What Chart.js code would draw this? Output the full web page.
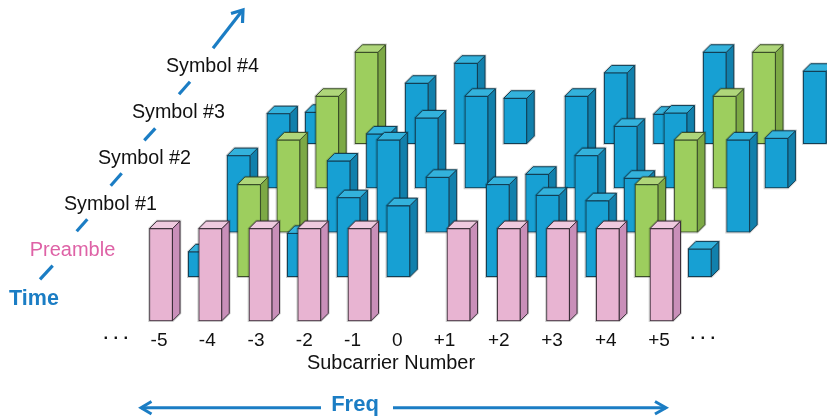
<!DOCTYPE html>
<html><head><meta charset="utf-8">
<style>html,body{margin:0;padding:0;background:#fff}canvas{display:block}</style>
<script src="https://cdn.jsdelivr.net/npm/chart.js@4"></script></head>
<body><canvas id="c" width="827" height="419"></canvas>
<script>
const rowNames = ['Preamble','Symbol #1','Symbol #2','Symbol #3','Symbol #4'];
const rowFloor = [0, 0.478, 0.961, 1.44, 1.922];
const preamblePos = [-5.00,-4.01,-3.00,-2.02,-1.01,0.98,1.99,2.98,3.98,5.06];
const symbol1Pos = [-4.22,-3.23,-2.23,-1.23,-0.23,1.77,2.77,3.77,4.76,5.83];
const symbol2Pos = [-3.44,-2.44,-1.43,-0.43,0.56,2.56,3.55,4.54,5.55,6.60];
const symbol3Pos = [-2.64,-1.66,-0.64,0.34,1.34,3.35,4.34,5.34,6.33,7.37];
const symbol4Pos = [-1.87,-0.87,0.14,1.13,2.12,4.14,5.13,6.13,7.12,8.14];
const preambleAmp = [1,1,1,1,1,1,1,1,1,1];
const symbol1Amp = [.27,1,.47,.857,.77,1,.883,.824,1,.30];
const symbol2Amp = [.83,1,.772,1,.595,.628,.83,.585,1,1];
const symbol3Amp = [.806,.995,.586,.759,.995,.995,.669,.813,.995,.539];
const symbol4Amp = [.339,.99,.654,.871,.491,.766,.318,.99,.99,.784];
const pilotIndex = [1, 8];
const tickValues = [-5.90,-5.04,-4.07,-3.09,-2.12,-1.15,-0.25,0.70,1.79,2.86,3.94,5.01,5.90];
const tickLabels = ['· · ·','-5','-4','-3','-2','-1','0','+1','+2','+3','+4','+5','· · ·'];

const FONT = '"Liberation Sans", Arial, sans-serif';
const palette = {
  pink:  {front:'#E8B4D2', top:'#EFCADF', side:'#C98FB9', line:'#3d2f3a'},
  blue:  {front:'#17A0D3', top:'#33B2DC', side:'#1180AC', line:'#123f55'},
  green: {front:'#9DCE5E', top:'#AFD67A', side:'#7DA945', line:'#3b4f28'}
};
const DEPTH = 7.5;
const posRows = [preamblePos, symbol1Pos, symbol2Pos, symbol3Pos, symbol4Pos];
const ampRows = [preambleAmp, symbol1Amp, symbol2Amp, symbol3Amp, symbol4Amp];
const kinds = ampRows.map((a, r) => a.map((_, i) => r === 0 ? 'pink' : pilotIndex.includes(i) ? 'green' : 'blue'));

const datasets = rowNames.map((name, r) => ({
  label: name,
  data: posRows[r].map((x, i) => ({x, y: [rowFloor[r], rowFloor[r] + ampRows[r][i]]})),
  backgroundColor: kinds[r].map(k => palette[k].front),
  borderColor: kinds[r].map(k => palette[k].line),
  borderWidth: 1,
  borderSkipped: false,
  barThickness: 23,
  grouped: false,
  clip: false,
  order: r
}));

function path(ctx, pts) {
  ctx.beginPath();
  pts.forEach((p, i) => i ? ctx.lineTo(p[0], p[1]) : ctx.moveTo(p[0], p[1]));
  ctx.closePath();
}
function poly(ctx, pts, fill, line) {
  path(ctx, pts);
  ctx.fillStyle = fill; ctx.fill();
  ctx.strokeStyle = line; ctx.lineWidth = 1; ctx.stroke();
}
const depthFaces = {
  id: 'depthFaces',
  beforeDatasetDraw(chart, args) {
    const ctx = chart.ctx, r = args.index;
    chart.getDatasetMeta(r).data.forEach((bar, i) => {
      const p = palette[kinds[r][i]];
      const L = bar.x - bar.width / 2, R = bar.x + bar.width / 2, T = bar.y, B = bar.base;
      const D = DEPTH;
      path(ctx, [[L,T],[L+D,T-D],[R+D,T-D],[R+D,B-D],[R,B],[L,B]]);
      ctx.strokeStyle = 'rgba(0,0,0,0.2)'; ctx.lineWidth = 2.6; ctx.stroke();
      poly(ctx, [[R,T],[R+D,T-D],[R+D,B-D],[R,B]], p.side, p.line);
      poly(ctx, [[L,T],[L+D,T-D],[R+D,T-D],[R,T]], p.top, p.line);
    });
  }
};

const ARROW = '#1B7DC4';
const labelTexts = [
  ['Symbol #4', 212.5, 66.5, 'normal', 19.7, '#111'],
  ['Symbol #3', 178.5, 112.5, 'normal', 19.7, '#111'],
  ['Symbol #2', 144.5, 158.5, 'normal', 19.7, '#111'],
  ['Symbol #1', 110.5, 204.5, 'normal', 19.7, '#111'],
  ['Preamble', 72.5, 250, 'normal', 20, '#DE62A6'],
  ['Time', 34, 299.5, 'bold', 21.5, ARROW],
  ['Freq', 355, 405, 'bold', 22, ARROW]
];
const dashSegs = [
  [40,279.3,52.7,265.7],[76.7,231.3,87.3,219.3],[110.7,185.7,121.7,173.3],
  [144.3,140.3,155.3,128.3],[179,94.3,190,81.7]
];
const annotate = {
  id: 'annotate',
  afterDraw(chart) {
    const ctx = chart.ctx;
    ctx.save();
    ctx.textAlign = 'center'; ctx.textBaseline = 'middle';
    labelTexts.forEach(([t,x,y,w,s,c]) => {
      ctx.font = `${w} ${s}px ${FONT}`; ctx.fillStyle = c; ctx.fillText(t, x, y);
    });
    ctx.strokeStyle = ARROW; ctx.lineWidth = 3.2;
    dashSegs.forEach(([a,b,c,d]) => { ctx.beginPath(); ctx.moveTo(a,b); ctx.lineTo(c,d); ctx.stroke(); });
    const line = (pts) => { ctx.beginPath(); pts.forEach((p,i)=> i?ctx.lineTo(p[0],p[1]):ctx.moveTo(p[0],p[1])); ctx.stroke(); };
    line([[213,48.3],[242,11]]);
    line([[231,13.5],[243,10],[242.5,23]]);
    ctx.lineWidth = 3;
    line([[141,407.7],[321,407.7]]);
    line([[151.5,401.5],[141,407.7],[151.5,414]]);
    line([[393,407.7],[666,407.7]]);
    line([[655,401.5],[666,407.7],[655,414]]);
    ctx.restore();
  }
};

new Chart(document.getElementById('c'), {
  type: 'bar',
  data: {datasets},
  plugins: [depthFaces, annotate],
  options: {
    responsive: false, animation: false, devicePixelRatio: 1,
    layout: {padding: {left: 0, right: 45, top: 0, bottom: 0}},
    plugins: {legend: {display: false}, tooltip: {enabled: false}},
    scales: {
      x: {
        type: 'linear', min: -8.236, max: 7.482, offset: false,
        grid: {display: false, drawTicks: false}, border: {display: false},
        afterBuildTicks(s) { s.ticks = tickValues.map(value => ({value})); },
        afterFit(s) { s.height = 94; },
        ticks: {
          autoSkip: false, maxRotation: 0, padding: 4, color: '#111',
          font: (c) => tickLabels[c.index] === '· · ·'
            ? {family: FONT, size: 16.5, weight: 'bold'}
            : {family: FONT, size: 19, weight: 'normal'},
          callback(v) { return tickLabels[tickValues.indexOf(v)]; }
        },
        title: {display: true, text: 'Subcarrier Number', color: '#111',
          font: {family: FONT, size: 19.9}, padding: {top: 0, bottom: 44}}
      },
      y: {display: false, min: -0.0456, max: 3.479}
    }
  }
});
</script></body></html>
